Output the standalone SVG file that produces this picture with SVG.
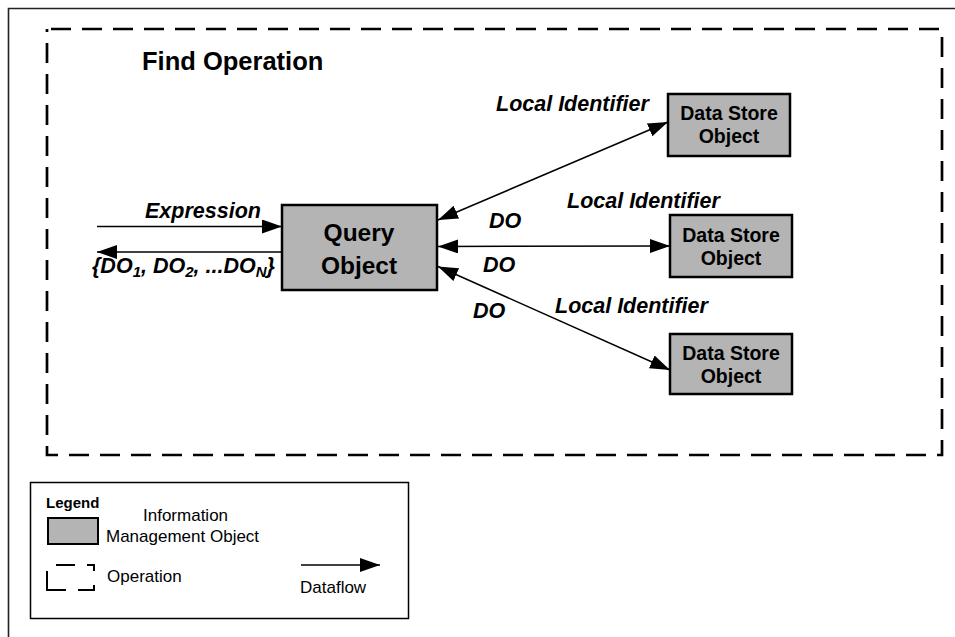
<svg xmlns="http://www.w3.org/2000/svg" width="955" height="637" viewBox="0 0 955 637">
  <style>
    text { font-family: "Liberation Sans", Arial, sans-serif; fill: #000; }
    .title { font-size: 25.5px; font-weight: bold; }
    .big { font-size: 24.5px; font-weight: bold; text-anchor: middle; }
    .ds { font-size: 19.5px; font-weight: bold; text-anchor: middle; }
    .lbl { font-size: 21.5px; font-weight: bold; font-style: italic; }
    .leg { font-size: 17px; }
    .legh { font-size: 15px; font-weight: bold; }
    .box { fill: #b4b4b4; stroke: #000; stroke-width: 2.5; }
    .flow { stroke: #000; stroke-width: 1.5; fill: none; }
    .dash { fill: none; stroke: #000; stroke-width: 2.7; stroke-dasharray: 20 11; }
  </style>
  <defs>
    <marker id="ah" viewBox="0 0 20 14" refX="20" refY="7" markerWidth="20" markerHeight="14" markerUnits="userSpaceOnUse" orient="auto-start-reverse">
      <path d="M0,0 L20,7 L0,14 z" fill="#000"/>
    </marker>
  </defs>

  <rect width="955" height="637" fill="#fff"/>

  <!-- page frame (open at right and bottom) -->
  <path d="M8.5,637 V8.5 H955" fill="none" stroke="#222" stroke-width="1.6"/>

  <!-- operation boundary -->
  <g id="find-operation">
    <rect class="dash" x="47" y="29" width="895" height="426" stroke-dashoffset="-4"/>
    <text class="title" x="142" y="70">Find Operation</text>
  </g>

  <!-- connectors -->
  <g id="connectors">
    <line class="flow" x1="97" y1="226.5" x2="282" y2="226.5" marker-end="url(#ah)"/>
    <line class="flow" x1="282" y1="252" x2="97" y2="252" marker-end="url(#ah)"/>
    <line class="flow" x1="438" y1="220" x2="668" y2="122" marker-start="url(#ah)" marker-end="url(#ah)"/>
    <line class="flow" x1="438" y1="246.5" x2="670" y2="246" marker-start="url(#ah)" marker-end="url(#ah)"/>
    <line class="flow" x1="438" y1="266.5" x2="670" y2="370" marker-start="url(#ah)" marker-end="url(#ah)"/>

    <text class="lbl" x="145" y="218">Expression</text>
    <text class="lbl" x="92" y="273">{DO<tspan font-size="15" dy="4">1</tspan><tspan dy="-4">, DO</tspan><tspan font-size="15" dy="4">2</tspan><tspan dy="-4">, ...DO</tspan><tspan font-size="15" dy="4">N</tspan><tspan dy="-4">}</tspan></text>
    <text class="lbl" x="496" y="111">Local Identifier</text>
    <text class="lbl" x="567" y="208">Local Identifier</text>
    <text class="lbl" x="555" y="313">Local Identifier</text>
    <text class="lbl" x="489" y="228">DO</text>
    <text class="lbl" x="483" y="272">DO</text>
    <text class="lbl" x="473" y="318">DO</text>
  </g>

  <g id="query-object">
    <rect class="box" x="282" y="205" width="155" height="85"/>
    <text class="big" x="359" y="241">Query</text>
    <text class="big" x="359" y="274">Object</text>
  </g>

  <g id="data-store-1">
    <rect class="box" x="668" y="94" width="122" height="62"/>
    <text class="ds" x="729" y="120">Data Store</text>
    <text class="ds" x="729" y="143">Object</text>
  </g>

  <g id="data-store-2">
    <rect class="box" x="670" y="215" width="122" height="62"/>
    <text class="ds" x="731" y="242">Data Store</text>
    <text class="ds" x="731" y="265">Object</text>
  </g>

  <g id="data-store-3">
    <rect class="box" x="670" y="334" width="122" height="60"/>
    <text class="ds" x="731" y="360">Data Store</text>
    <text class="ds" x="731" y="383">Object</text>
  </g>

  <!-- legend -->
  <g id="legend">
    <rect x="30.5" y="482.5" width="378" height="136" fill="#fff" stroke="#000" stroke-width="1.5"/>
    <text class="legh" x="46" y="508">Legend</text>
    <rect x="48" y="518" width="50" height="26" fill="#b4b4b4" stroke="#000" stroke-width="2"/>
    <text class="leg" x="143" y="521">Information</text>
    <text class="leg" x="106" y="542">Management Object</text>
    <g fill="none" stroke="#000" stroke-width="2">
      <path d="M56,565 H75"/>
      <path d="M87,565 H94 V571"/>
      <path d="M47,571 V590 H66"/>
      <path d="M78,590 H94 V585"/>
    </g>
    <text class="leg" x="107" y="582">Operation</text>
    <line class="flow" x1="301" y1="565" x2="380" y2="565" marker-end="url(#ah)"/>
    <text class="leg" x="300" y="593">Dataflow</text>
  </g>
</svg>
